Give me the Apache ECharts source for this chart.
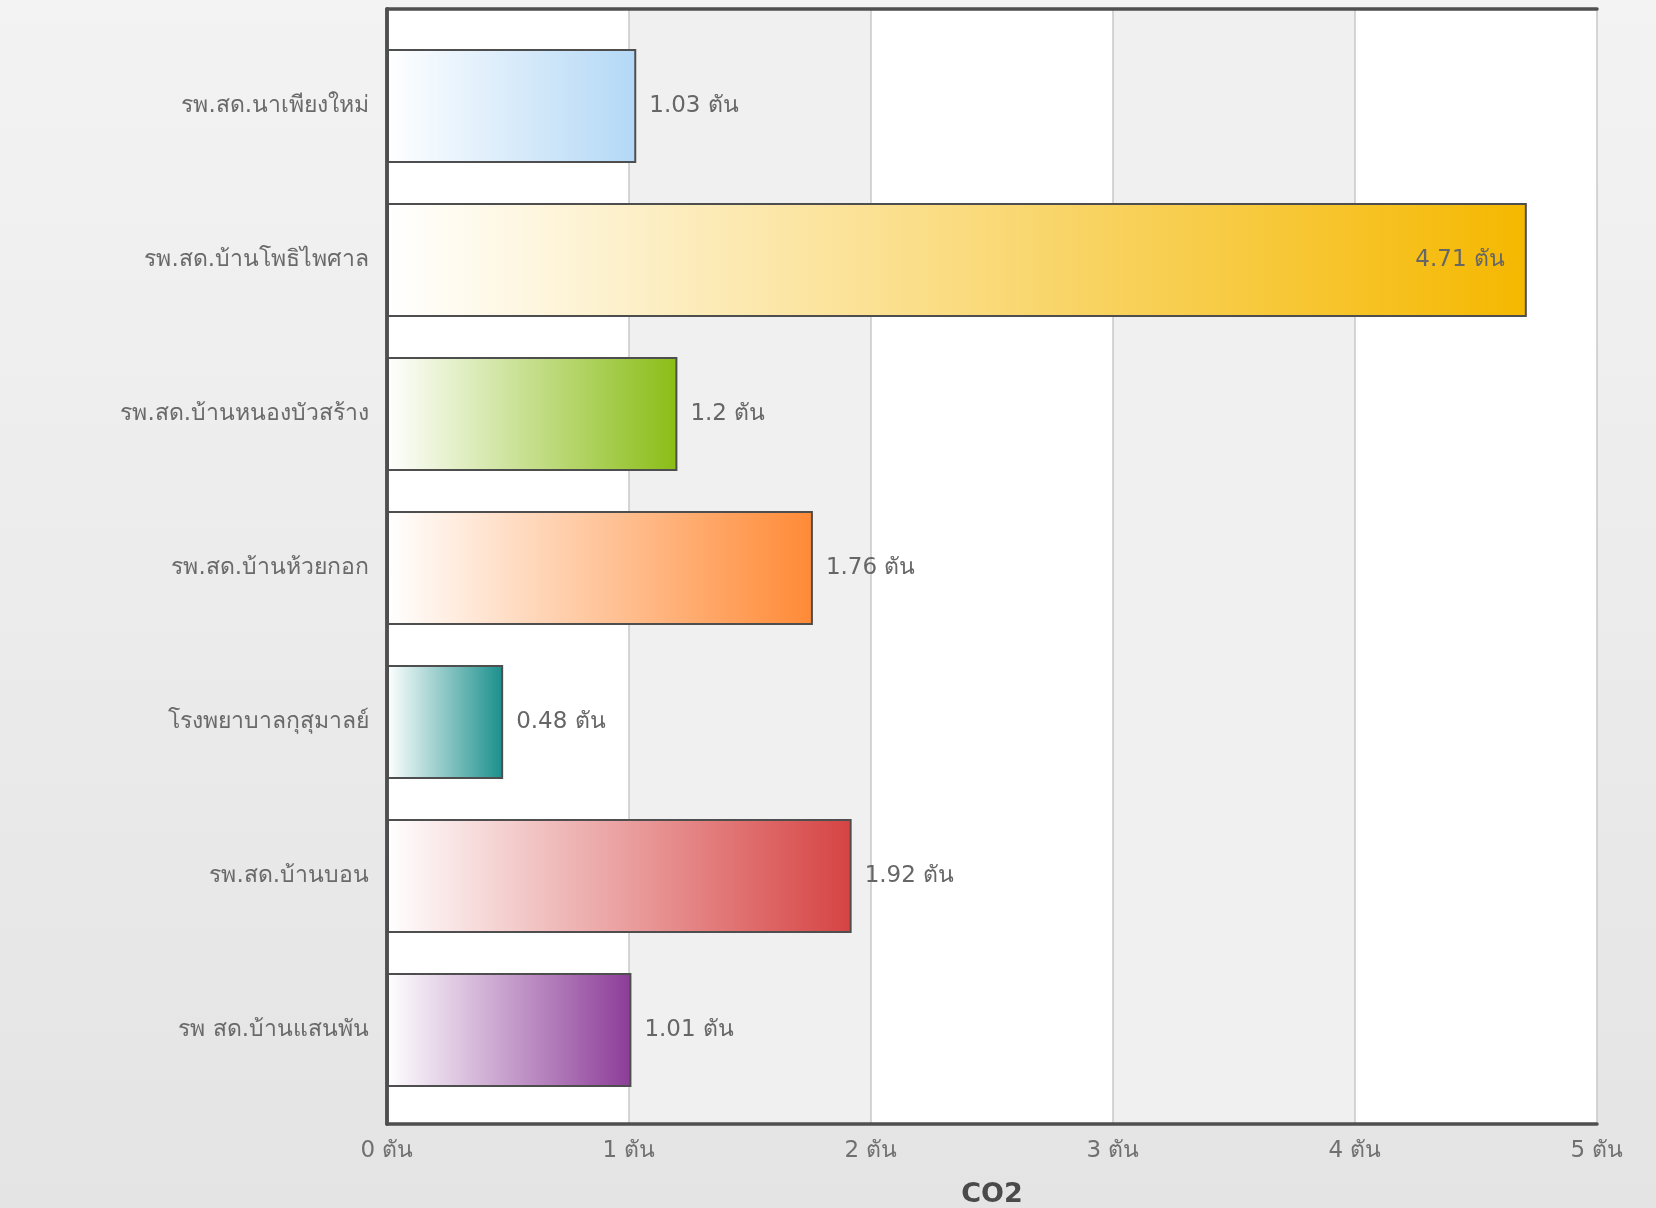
<!DOCTYPE html>
<html>
<head>
<meta charset="utf-8">
<script src="https://cdn.jsdelivr.net/npm/echarts@6/dist/echarts.min.js"></script>
<style>
html,body{margin:0;padding:0;background:#ececec;}
#c{width:1656px;height:1208px;}
</style>
</head>
<body>
<div id="c"></div>
<script>
const categories = ['รพ.สด.นาเพียงใหม่','รพ.สด.บ้านโพธิไพศาล','รพ.สด.บ้านหนองบัวสร้าง','รพ.สด.บ้านห้วยกอก','โรงพยาบาลกุสุมาลย์','รพ.สด.บ้านบอน','รพ สด.บ้านแสนพัน'];
const values = [1.03, 4.71, 1.2, 1.76, 0.48, 1.92, 1.01];
const barColors = ['#b3d8f6','#f5b800','#8abd16','#ff8a36','#1a8f8c','#d64343','#8c3c98'];
const xTicks = [0,1,2,3,4,5];
const unit = 'ตัน';
const axisName = 'CO2';

const font = '"DejaVu Sans", Verdana, sans-serif';
const frameLine = {show:true,lineStyle:{color:'#4f4f4f',width:3.5}};

const data = values.map((v,i)=>({
  value: v,
  itemStyle: {
    color: new echarts.graphic.LinearGradient(0,0,1,0,[
      {offset:0,color:'#ffffff'},
      {offset:1,color:barColors[i]}
    ])
  },
  label: v > 4.5 ? {position:'insideRight', distance: 22} : undefined
}));

const chart = echarts.init(document.getElementById('c'));
chart.setOption({
  backgroundColor: new echarts.graphic.LinearGradient(0,0,0,1,[
    {offset:0,color:'#f3f3f3'},{offset:1,color:'#e4e4e4'}
  ]),
  animation:false,
  grid:[
    {left:387,right:59,top:9,bottom:84,outerBoundsMode:'none',containLabel:false},
    {left:387,right:59,top:29,bottom:101,outerBoundsMode:'none',containLabel:false}
  ],
  xAxis:[
    {gridIndex:0,type:'value',min:xTicks[0],max:xTicks[xTicks.length-1],interval:1,
     axisLine:frameLine,axisTick:{show:false},
     axisLabel:{formatter:v=>v+' '+unit,color:'#707070',fontSize:23,fontFamily:font,margin:16},
     splitLine:{show:true,lineStyle:{color:'#c8c8c8',width:1.5}},
     splitArea:{show:true,areaStyle:{color:['#ffffff','#f0f0f0']}},
     name:axisName,nameLocation:'middle',nameGap:57,
     nameTextStyle:{fontSize:27,fontWeight:'bold',color:'#4a4a4a',fontFamily:font}},
    {gridIndex:0,type:'value',position:'top',min:xTicks[0],max:xTicks[xTicks.length-1],
     axisLine:frameLine,axisTick:{show:false},axisLabel:{show:false},splitLine:{show:false}},
    {gridIndex:1,type:'value',min:xTicks[0],max:xTicks[xTicks.length-1],show:false}
  ],
  yAxis:[
    {gridIndex:0,type:'category',data:categories,
     axisLine:frameLine,axisTick:{show:false},axisLabel:{show:false}},
    {gridIndex:0,type:'category',data:categories,position:'right',
     axisLine:frameLine,axisTick:{show:false},axisLabel:{show:false}},
    {gridIndex:1,type:'category',data:categories,inverse:true,
     axisLine:{show:false},axisTick:{show:false},
     axisLabel:{color:'#6a6a6a',fontSize:23,fontFamily:font,margin:18}}
  ],
  series:[{
    type:'bar',xAxisIndex:2,yAxisIndex:2,
    data:data,barWidth:114,
    itemStyle:{borderColor:'#4e4e4e',borderWidth:2},
    label:{show:true,position:'right',distance:13,color:'#666',fontSize:23,fontFamily:font,
      formatter:p=>p.value+' '+unit}
  }]
});
</script>
</body>
</html>
